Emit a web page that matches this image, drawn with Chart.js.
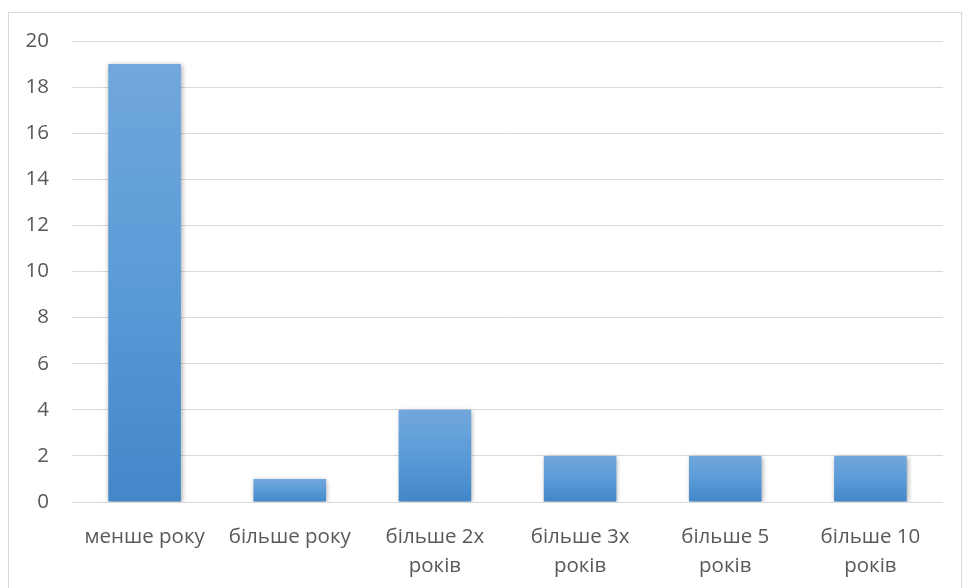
<!DOCTYPE html>
<html>
<head>
<meta charset="utf-8">
<script src="https://cdn.jsdelivr.net/npm/chart.js@4"></script>
<style>
  html, body { margin: 0; padding: 0; background: #fff; }
  #wrap { width: 963px; height: 588px; position: relative; }
</style>
</head>
<body>
<div id="wrap"><canvas id="chart"></canvas></div>
<script>
const categories = [["менше року"], ["більше року"], ["більше 2х", "років"], ["більше 3х", "років"], ["більше 5", "років"], ["більше 10", "років"]];
const values = [19, 1, 4, 2, 2, 2];
const yMin = 0, yMax = 20, yStep = 2;

const textColor = "#595959";
const gridColor = "#d9d9d9";

// each bar gets its own top-to-bottom gradient
const barGradient = (context) => {
    const chart = context.chart;
    if (!chart.chartArea) return "#5b9bd5";
    const y = chart.scales.y;
    const top = y.getPixelForValue(context.raw);
    const bottom = y.getPixelForValue(0);
    const g = chart.ctx.createLinearGradient(0, top, 0, bottom);
    g.addColorStop(0, "#71a7dc");
    g.addColorStop(0.5, "#5a9bd7");
    g.addColorStop(1, "#4387c9");
    return g;
};

const frame = {
    id: "frame",
    beforeDraw(chart) {
        const ctx = chart.ctx;
        ctx.save();
        ctx.strokeStyle = gridColor;
        ctx.lineWidth = 1;
        ctx.strokeRect(8.5, 12.5, 953, 590);
        ctx.restore();
    },
};

const shadow = {
    id: "shadow",
    beforeDatasetsDraw(chart) {
        const ctx = chart.ctx;
        ctx.save();
        ctx.shadowColor = "rgba(0,0,0,0.35)";
        ctx.shadowBlur = 5;
        ctx.shadowOffsetX = 1;
        ctx.shadowOffsetY = 1;
    },
    afterDatasetsDraw(chart) {
        chart.ctx.restore();
    },
};

new Chart(document.getElementById("chart"), {
    type: "bar",
    plugins: [frame, shadow],
    data: {
        labels: categories,
        datasets: [{
            data: values,
            backgroundColor: barGradient,
            borderWidth: 0,
            categoryPercentage: 1,
            barPercentage: 0.5,
        }],
    },
    options: {
        responsive: true,
        maintainAspectRatio: false,
        animation: false,
        layout: { padding: { left: 8, top: 41, right: 20, bottom: 0 } },
        plugins: {
            legend: { display: false },
            tooltip: { enabled: false },
        },
        scales: {
            x: {
                grid: { display: false, drawTicks: false },
                border: { display: false },
                ticks: {
                    color: textColor,
                    font: { family: "Open Sans", size: 20.5, lineHeight: 1.4 },
                    padding: 21,
                    maxRotation: 0,
                    autoSkip: false,
                },
                afterFit: (scale) => { scale.height = 86; },
            },
            y: {
                min: yMin,
                max: yMax,
                grid: { color: gridColor, lineWidth: 1, drawTicks: false },
                border: { display: false },
                ticks: {
                    stepSize: yStep,
                    color: textColor,
                    font: { family: "Open Sans", size: 20.5 },
                    padding: 23,
                },
                afterFit: (scale) => { scale.width = 64; },
            },
        },
    },
});
</script>
</body>
</html>
